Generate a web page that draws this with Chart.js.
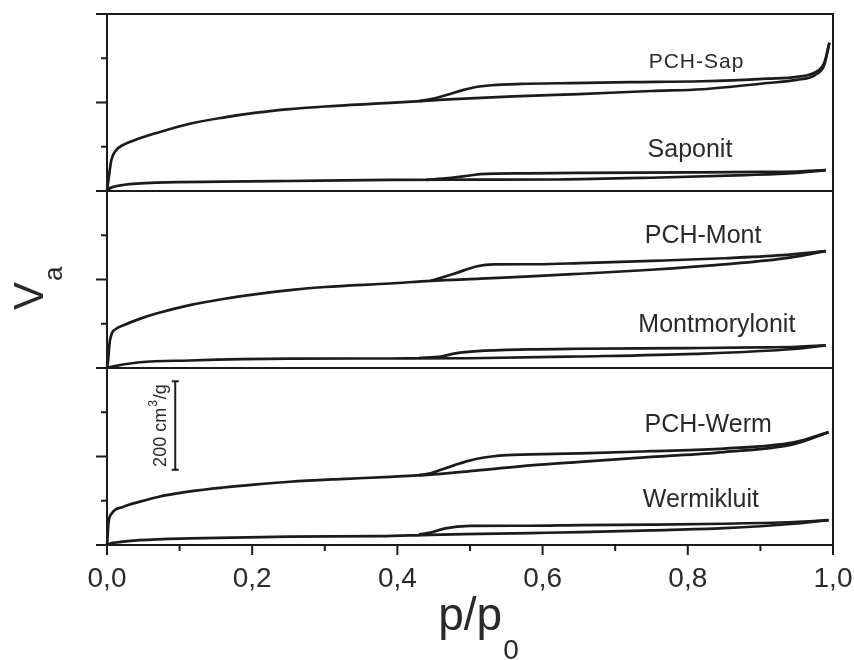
<!DOCTYPE html>
<html>
<head>
<meta charset="utf-8">
<script src="https://cdn.jsdelivr.net/npm/chart.js@4.4.1/dist/chart.umd.min.js"></script>
<style>
html,body{margin:0;padding:0;background:#fff;}
#wrap{width:854px;height:660px;position:relative;}
</style>
</head>
<body>
<div id="wrap"><canvas id="c" width="854" height="660"></canvas></div>
<script>
// ---------- DATA (p/p0 and adsorbed volume, cm3/g) ----------
// Top panel
const pchSapAdsP = [0, 0.002, 0.006, 0.013, 0.022, 0.045, 0.068, 0.114, 0.16, 0.206, 0.252, 0.30, 0.39, 0.47, 0.56, 0.65, 0.75, 0.82, 0.91, 0.95, 0.975, 0.988, 0.995];
const pchSapAdsV = [0, 25, 70, 93, 104, 119, 131, 152, 166, 177, 185, 191, 199, 207, 214, 219, 226, 230, 244, 251, 262, 285, 335];
const pchSapDesP = [0.43, 0.45, 0.47, 0.49, 0.505, 0.53, 0.57, 0.64, 0.72, 0.82, 0.91, 0.95, 0.975, 0.988, 0.995];
const pchSapDesV = [203, 209, 218, 228, 234, 239, 242, 244, 246, 248, 254, 258, 268, 290, 335];

const saponitAdsP = [0, 0.002, 0.008, 0.022, 0.07, 0.16, 0.25, 0.39, 0.5, 0.62, 0.75, 0.88, 0.95, 0.99];
const saponitAdsV = [0, 4, 9, 13.6, 19, 21, 22.6, 25, 25.5, 26, 30, 36, 41, 47];
const saponitDesP = [0.44, 0.47, 0.5, 0.514, 0.578, 0.65, 0.8, 0.9, 0.95, 0.99];
const saponitDesV = [25, 29, 35, 38, 40, 41, 42, 43, 44, 47];

// Middle panel
const pchMontAdsP = [0, 0.0015, 0.004, 0.013, 0.022, 0.045, 0.068, 0.114, 0.16, 0.206, 0.252, 0.30, 0.39, 0.446, 0.514, 0.583, 0.652, 0.75, 0.85, 0.93, 0.99];
const pchMontAdsV = [0, 17, 62, 89, 96, 111, 123, 142, 156, 167, 176, 183, 191, 197, 202, 207, 213, 222, 234, 247, 264];
const pchMontDesP = [0.446, 0.478, 0.51, 0.533, 0.593, 0.652, 0.75, 0.85, 0.93, 0.99];
const pchMontDesV = [197, 213, 230, 234, 234.5, 237, 242, 248, 255, 264];

const montAdsP = [0, 0.004, 0.045, 0.114, 0.252, 0.39, 0.5, 0.65, 0.81, 0.946, 0.99];
const montAdsV = [0, 2, 13, 17, 21, 21.5, 22, 26, 32, 43, 51];
const montDesP = [0.43, 0.46, 0.48, 0.51, 0.58, 0.65, 0.8, 0.9, 0.95, 0.99];
const montDesV = [23, 26, 33, 38, 42, 43.5, 45, 46.5, 48, 51];

// Bottom panel
const pchWermAdsP = [0, 0.0005, 0.002, 0.0065, 0.022, 0.0455, 0.0686, 0.114, 0.16, 0.206, 0.252, 0.321, 0.39, 0.446, 0.514, 0.583, 0.652, 0.75, 0.85, 0.946, 0.994];
const pchWermAdsV = [0, 11, 49, 71, 86, 98, 108, 121, 130, 137, 143, 149, 154, 159, 169, 180, 188, 199, 210, 228, 255];
const pchWermDesP = [0.43, 0.446, 0.46, 0.478, 0.495, 0.51, 0.53, 0.551, 0.615, 0.652, 0.75, 0.85, 0.946, 0.994];
const pchWermDesV = [158, 162, 170, 180, 189, 195, 200, 203, 206, 207, 212, 218, 232, 255];

const wermAdsP = [0, 0.002, 0.022, 0.0455, 0.114, 0.252, 0.377, 0.446, 0.514, 0.583, 0.652, 0.75, 0.85, 0.946, 0.994];
const wermAdsV = [0, 2, 7.5, 11, 15, 19, 20, 23, 25, 27, 29, 33, 38, 48, 56];
const wermDesP = [0.43, 0.446, 0.466, 0.5, 0.58, 0.652, 0.75, 0.85, 0.946, 0.994];
const wermDesV = [24, 28, 37.6, 43, 43.5, 45, 46, 48, 52, 56];

// Labels / ticks
const sampleLabels = ['PCH-Sap', 'Saponit', 'PCH-Mont', 'Montmorylonit', 'PCH-Werm', 'Wermikluit'];
const xTickLabelValues = [0, 0.2, 0.4, 0.6, 0.8, 1.0];
const xTickValues = [0, 0.1, 0.2, 0.3, 0.4, 0.5, 0.6, 0.7, 0.8, 0.9, 1.0];
const yTickValues = [0, 100, 200, 300, 400];
const scaleBarValue = 200;       // cm3/g
const scaleBarStart = 170;       // where the bar starts (bottom panel units)

// ---------- STYLE / LAYOUT ----------
const LINE = '#1b1b1b';
const AXIS = '#1b1b1b';
const TEXT = '#2a2a2a';
const FONT = '"Liberation Sans", Arial, Helvetica, sans-serif';

// label anchor positions (p, value, axis, size, spacing) - centre of capitals
const labelLayout = [
  {p: 0.812, v: 296, axis: 'y1', size: 21, sp: 1},
  {p: 0.803, v: 96, axis: 'y1', size: 25, sp: 0},
  {p: 0.821, v: 302, axis: 'y2', size: 25, sp: 0},
  {p: 0.840, v: 102, axis: 'y2', size: 25, sp: 0},
  {p: 0.828, v: 276, axis: 'y3', size: 25, sp: 0},
  {p: 0.818, v: 107, axis: 'y3', size: 25, sp: 0}
];

function series(p, v, axis) {
  return {
    data: p.map((x, i) => ({x: x, y: v[i]})),
    yAxisID: axis,
    borderColor: LINE,
    borderWidth: 2.7,
    pointRadius: 0,
    showLine: true,
    fill: false,
    cubicInterpolationMode: 'monotone',
    clip: 4
  };
}

const datasets = [
  series(pchSapAdsP, pchSapAdsV, 'y1'), series(pchSapDesP, pchSapDesV, 'y1'),
  series(saponitAdsP, saponitAdsV, 'y1'), series(saponitDesP, saponitDesV, 'y1'),
  series(pchMontAdsP, pchMontAdsV, 'y2'), series(pchMontDesP, pchMontDesV, 'y2'),
  series(montAdsP, montAdsV, 'y2'), series(montDesP, montDesV, 'y2'),
  series(pchWermAdsP, pchWermAdsV, 'y3'), series(pchWermDesP, pchWermDesV, 'y3'),
  series(wermAdsP, wermAdsV, 'y3'), series(wermDesP, wermDesV, 'y3')
];

function yAxis() {
  return {
    type: 'linear', position: 'left', stack: 'panels', stackWeight: 1,
    min: 0, max: 400,
    ticks: {display: false},
    grid: {display: false},
    border: {display: false},
    afterFit: s => { s.width = 0; s.paddingTop = 0; s.paddingBottom = 0; }
  };
}

function line(ctx, x1, y1, x2, y2) {
  ctx.beginPath(); ctx.moveTo(x1, y1); ctx.lineTo(x2, y2); ctx.stroke();
}

const decor = {
  id: 'decor',
  afterDatasetsDraw(chart) {
    const ctx = chart.ctx;
    const xs = chart.scales.x;
    const ys = [chart.scales.y1, chart.scales.y2, chart.scales.y3];
    const {left, right, top, bottom} = chart.chartArea;
    ctx.save();
    ctx.strokeStyle = AXIS;
    ctx.lineWidth = 2;
    ctx.lineCap = 'butt';
    ctx.strokeRect(left, top, right - left, bottom - top);
    line(ctx, left, ys[0].bottom, right, ys[0].bottom);
    line(ctx, left, ys[1].bottom, right, ys[1].bottom);
    // y ticks (outward)
    ys.forEach(s => {
      yTickValues.forEach(v => {
        const py = s.getPixelForValue(v);
        const len = (v % 200 === 0) ? 11 : 6;
        line(ctx, left - len, py, left, py);
      });
    });
    // x ticks (outward)
    xTickValues.forEach((v, i) => {
      const px = xs.getPixelForValue(v);
      const len = (i % 2 === 0) ? 10 : 6;
      line(ctx, px, bottom, px, bottom + len);
    });

    // sample labels
    ctx.fillStyle = TEXT;
    ctx.textAlign = 'center';
    ctx.textBaseline = 'alphabetic';
    sampleLabels.forEach((t, i) => {
      const L = labelLayout[i];
      const px = xs.getPixelForValue(L.p);
      const py = chart.scales[L.axis].getPixelForValue(L.v);
      ctx.font = L.size + 'px ' + FONT;
      ctx.letterSpacing = L.sp + 'px';
      ctx.fillText(t, px, py + 0.358 * L.size);
    });
    ctx.letterSpacing = '0px';

    // scale bar (bottom panel units)
    const y3 = chart.scales.y3;
    const bx = xs.getPixelForValue(0.094);
    const b0 = y3.getPixelForValue(scaleBarStart);
    const b1 = y3.getPixelForValue(scaleBarStart + scaleBarValue);
    ctx.lineWidth = 2;
    line(ctx, bx, b0, bx, b1);
    line(ctx, bx - 3.5, b0, bx + 3.5, b0);
    line(ctx, bx - 3.5, b1, bx + 3.5, b1);
    // scale bar text, rotated
    ctx.save();
    ctx.translate(bx - 9, (b0 + b1) / 2);
    ctx.rotate(-Math.PI / 2);
    ctx.textAlign = 'left';
    const f1 = '18px ' + FONT, f2 = '12px ' + FONT;
    ctx.font = f1;
    const partA = scaleBarValue + ' cm';
    const wA = ctx.measureText(partA).width;
    ctx.font = f2;
    const wS = ctx.measureText('3').width;
    ctx.font = f1;
    const wB = ctx.measureText('/g').width;
    const total = wA + wS + 2 + wB;
    let x0 = -total / 2;
    ctx.fillText(partA, x0, 0);
    ctx.font = f2;
    ctx.fillText('3', x0 + wA + 1, -9);
    ctx.font = f1;
    ctx.fillText('/g', x0 + wA + wS + 2, 0);
    ctx.restore();

    // y title V_a
    ctx.save();
    ctx.translate(43, 310);
    ctx.rotate(-Math.PI / 2);
    ctx.textAlign = 'left';
    ctx.font = '42px ' + FONT;
    ctx.fillText('V', 0, 0);
    const wV = ctx.measureText('V').width;
    ctx.font = '26px ' + FONT;
    ctx.fillText('a', wV + 1, 19);
    ctx.restore();

    // x title p/p0
    ctx.save();
    ctx.textAlign = 'left';
    ctx.font = '46px ' + FONT;
    const tp = 'p/p';
    const wP = ctx.measureText(tp).width;
    ctx.font = '28px ' + FONT;
    const w0 = ctx.measureText('0').width;
    const startX = 478 - (wP + w0) / 2;
    ctx.font = '46px ' + FONT;
    ctx.fillText(tp, startX, 630);
    ctx.font = '28px ' + FONT;
    ctx.fillText('0', startX + wP + 1, 659);
    ctx.restore();

    ctx.restore();
  }
};

new Chart(document.getElementById('c'), {
  type: 'scatter',
  data: {datasets: datasets},
  options: {
    responsive: false,
    animation: false,
    events: [],
    layout: {padding: {left: 107, right: 21, top: 14, bottom: 0}},
    plugins: {legend: {display: false}, tooltip: {enabled: false}},
    scales: {
      x: {
        type: 'linear', position: 'bottom', min: 0, max: 1,
        afterBuildTicks: s => { s.ticks = xTickLabelValues.map(v => ({value: v})); },
        ticks: {
          autoSkip: false, maxRotation: 0, padding: 9,
          color: TEXT,
          font: {family: FONT, size: 28},
          callback: v => Number(v).toFixed(1).replace('.', ',')
        },
        grid: {display: false},
        border: {display: false},
        afterFit: s => { s.height = 115; s.paddingLeft = 0; s.paddingRight = 0; }
      },
      y3: yAxis(),
      y2: yAxis(),
      y1: yAxis()
    }
  },
  plugins: [decor]
});
</script>
</body>
</html>
